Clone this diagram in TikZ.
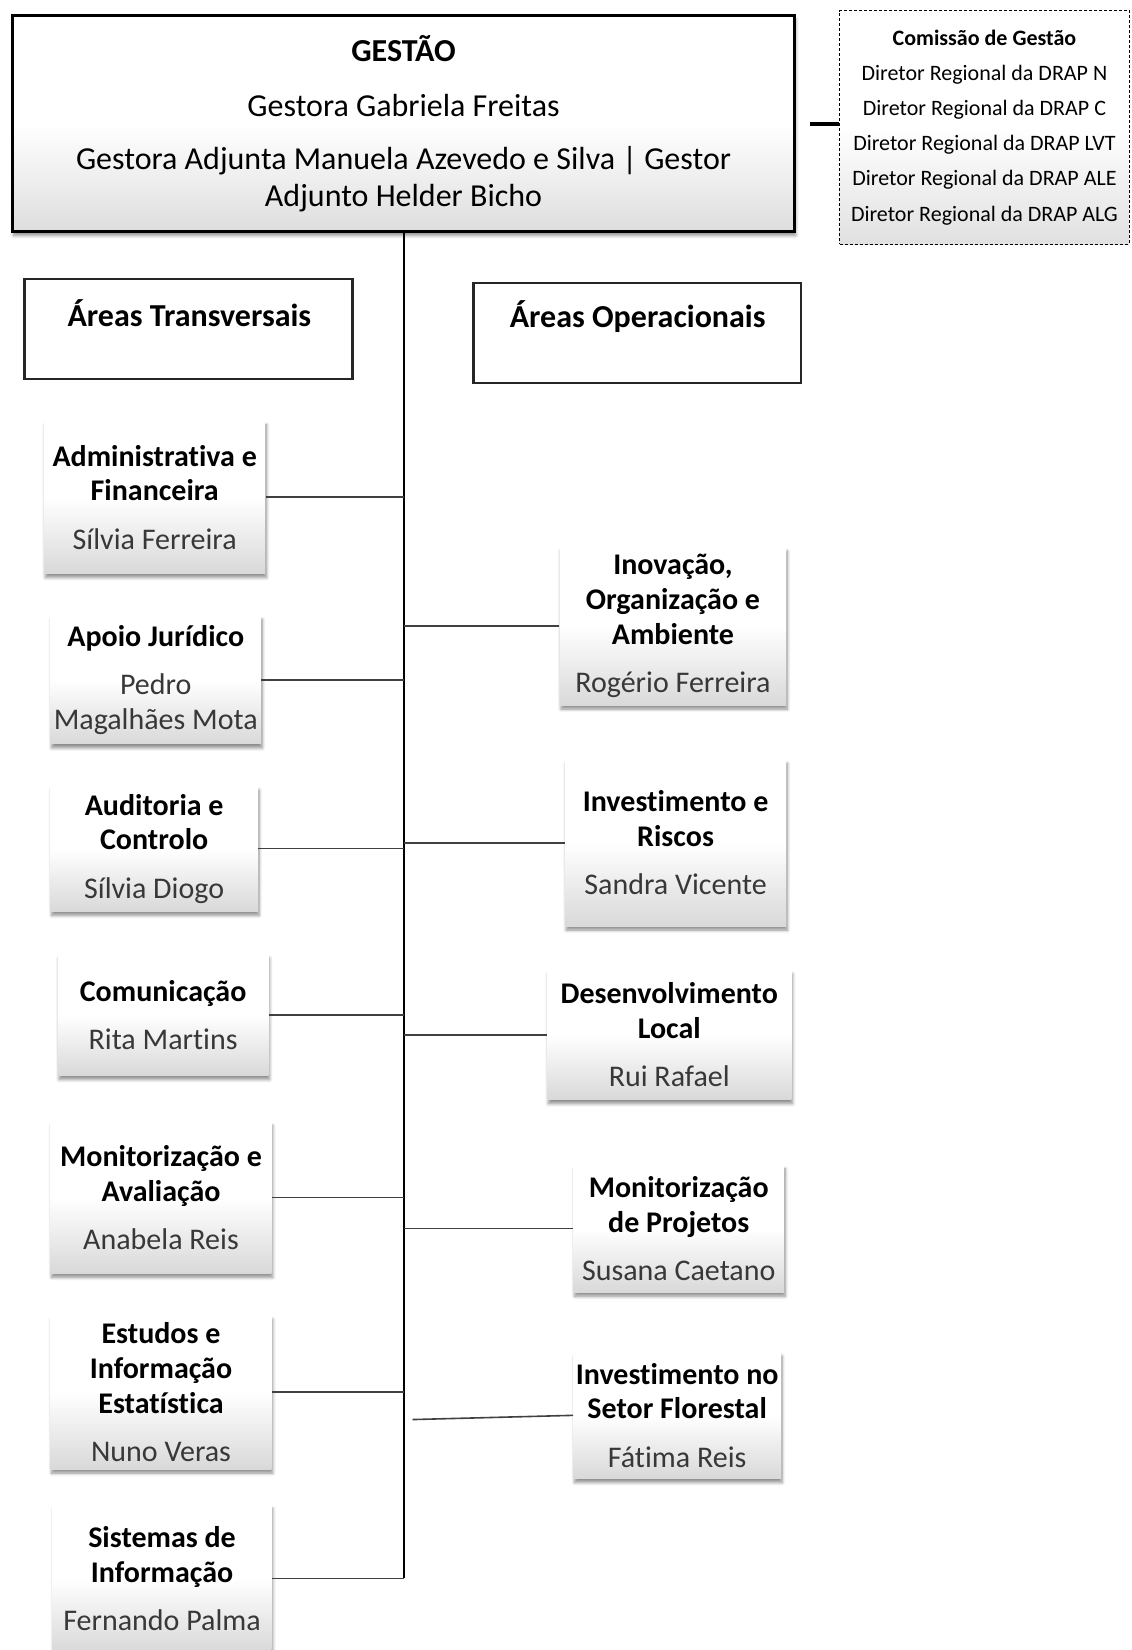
\documentclass[tikz,border=0pt]{standalone}
\usepackage{fontspec}
\setmainfont{Carlito}[Ligatures=NoCommon]
\usetikzlibrary{shadows,shadows.blur}
\newcommand\pname[1]{\textcolor{black!78}{#1}}
\begin{document}
\begin{tikzpicture}[x=0.52605pt,y=-0.52605pt,
  bx/.style 2 args={minimum width=#1*0.52605pt, minimum height=#2*0.52605pt},
  myshadow/.style={blur shadow={shadow xshift=0.6pt, shadow yshift=-2pt, shadow blur steps=6, shadow blur radius=1.6pt, shadow opacity=45}},
  orgbox/.style={rectangle, inner sep=0pt, align=center,
    top color=white, bottom color=black!15, middle color=white,
    myshadow,
    font=\fontsize{15}{17.4}\selectfont},
  mainbox/.style={rectangle, inner sep=0pt, align=center, draw=black, line width=1.6pt,
    top color=white, bottom color=black!13, middle color=white,
    myshadow,
    font=\fontsize{16}{18.4}\selectfont},
  combox/.style={rectangle, inner sep=0pt, align=center, draw=black, line width=0.5pt,
    dash pattern=on 1.5pt off 1pt,
    top color=white, bottom color=black!12, middle color=white,
    font=\fontsize{11}{17.6}\selectfont},
  areabox/.style={rectangle, inner sep=0pt, draw=black!85, line width=1.3pt, fill=white},
  areatext/.style={inner sep=0pt, font=\fontsize{16}{18}\selectfont\bfseries},
  conn/.style={line width=0.8pt, draw=black!75},
  trunk/.style={line width=0.9pt, draw=black},
]
\useasboundingbox (0,0) rectangle (1075,1568);

% top management
\node[mainbox, bx={743}{205}] (gestao) at (383.5,117.5)
  {\textbf{GESTÃO}\\[9pt]Gestora Gabriela Freitas\\[7.9pt]Gestora Adjunta Manuela Azevedo e Silva | Gestor\\Adjunto Helder Bicho};

\node[combox, bx={275}{222}] (comissao) at (935.5,121)
  {\textbf{Comissão de Gestão}\\Diretor Regional da DRAP N\\Diretor Regional da DRAP C\\Diretor Regional da DRAP LVT\\Diretor Regional da DRAP ALE\\Diretor Regional da DRAP ALG};
\coordinate (cstart) at (770,118);
\draw[line width=1.7pt] (cstart) -- (cstart -| comissao.west);

% area headers
\node[areabox, bx={312}{95}] (areaT) at (179,312.5) {};
\node[areatext] (areaTt) at (180,298) {Áreas Transversais};
\node[areabox, bx={311}{95}] (areaO) at (605.5,316.5) {};
\node[areatext] (areaOt) at (606,301) {Áreas Operacionais};

% left boxes
\node[orgbox, bx={210}{145}] (adm) at (147,472.5)
  {\textbf{Administrativa e}\\\textbf{Financeira}\\[6.8pt]\pname{Sílvia Ferreira}};
\node[orgbox, bx={200}{122}] (apo) at (148,646)
  {\textbf{Apoio Jurídico}\\[6.8pt]\pname{Pedro}\\\pname{Magalhães Mota}};
\node[orgbox, bx={197}{119}] (aud) at (146.5,806.5)
  {\textbf{Auditoria e}\\\textbf{Controlo}\\[6.8pt]\pname{Sílvia Diogo}};
\node[orgbox, bx={200}{115}] (com) at (155,964.5)
  {\textbf{Comunicação}\\[6.8pt]\pname{Rita Martins}};
\node[orgbox, bx={210}{144}] (mav) at (153,1138)
  {\textbf{Monitorização e}\\\textbf{Avaliação}\\[6.8pt]\pname{Anabela Reis}};
\node[orgbox, bx={210}{146}] (est) at (153,1323)
  {\textbf{Estudos e}\\\textbf{Informação}\\\textbf{Estatística}\\[6.8pt]\pname{Nuno Veras}};
\node[orgbox, bx={208}{140}] (sis) at (154,1500)
  {\textbf{Sistemas de}\\\textbf{Informação}\\[6.8pt]\pname{Fernando Palma}};

% right boxes
\node[orgbox, bx={215}{150}] (ino) at (639.5,595)
  {\textbf{Inovação,}\\\textbf{Organização e}\\\textbf{Ambiente}\\[6.8pt]\pname{Rogério Ferreira}};
\node[orgbox, bx={210}{158}] (ris) at (642,801)
  {\textbf{Investimento e}\\\textbf{Riscos}\\[6.8pt]\pname{Sandra Vicente}};
\node[orgbox, bx={232}{123}] (des) at (636,983.5)
  {\textbf{Desenvolvimento}\\\textbf{Local}\\[6.8pt]\pname{Rui Rafael}};
\node[orgbox, bx={200}{121}] (mpr) at (645,1167.5)
  {\textbf{Monitorização}\\\textbf{de Projetos}\\[6.8pt]\pname{Susana Caetano}};
\node[orgbox, bx={197}{120}] (flo) at (643.5,1345)
  {\textbf{Investimento no}\\\textbf{Setor Florestal}\\[6.8pt]\pname{Fátima Reis}};

% trunk
\coordinate (tbot) at (384,1500);
\draw[trunk] (gestao.south -| tbot) -- (tbot);

% connectors left
\foreach \b in {adm,apo,aud,com,mav,est,sis}
  \draw[conn] (\b.east) -- (\b.east -| tbot);
% connectors right
\foreach \b in {ino,ris,des,mpr}
  \draw[conn] (\b.west) -- (\b.west -| tbot);
\coordinate (fstart) at (392,1349);
\draw[conn] (fstart) -- (flo.west);
\end{tikzpicture}
\end{document}
